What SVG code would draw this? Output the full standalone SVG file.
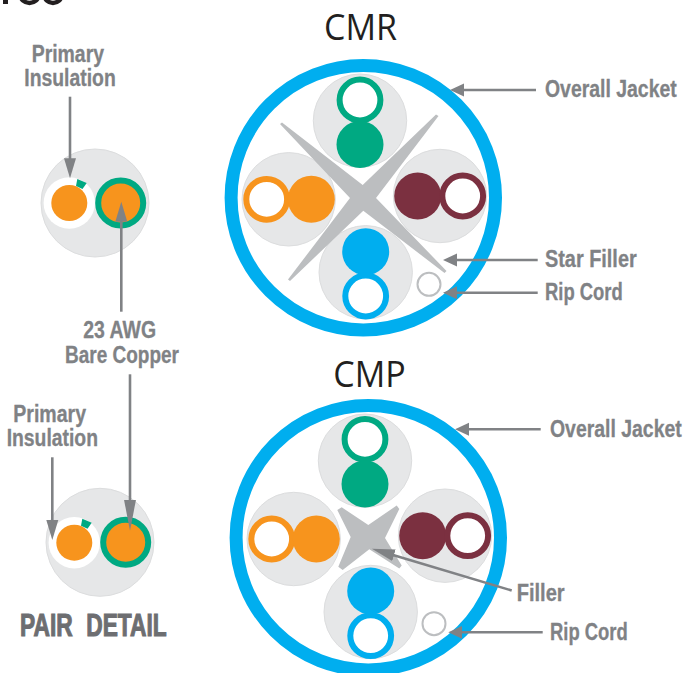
<svg xmlns="http://www.w3.org/2000/svg" width="683" height="673" viewBox="0 0 683 673">
<style>
.bg{fill:#fff}
.grey{fill:#e6e7e8;stroke:#dcddde;stroke-width:1}
.star{fill:#bcbec0}
.jacket{fill:none;stroke:#00aeef;stroke-width:13}
.rip{fill:#fff;stroke:#bcbec0;stroke-width:2}
.lab{font-family:"Liberation Sans",Arial,sans-serif;font-weight:700;font-size:23px;fill:#808285;stroke:#808285;stroke-width:.3}
.title{font-family:"Open Sans","Noto Sans",sans-serif;font-size:36px;fill:#231f20}
.big{font-family:"Liberation Sans",Arial,sans-serif;font-weight:700;font-size:31px;fill:#6d6e71;stroke:#6d6e71;stroke-width:1.1}
.ln{stroke:#808285;stroke-width:2.6;fill:none}
.ring{fill:#fff;stroke-width:6}
.g{stroke:#00a982}.go{fill:#00a982}
.o{stroke:#f7941d}.oo{fill:#f7941d}
.m{stroke:#7b3040}.mo{fill:#7b3040}
.b{stroke:#00aeef}.bo{fill:#00aeef}
</style>
<defs>
<marker id="h" markerUnits="userSpaceOnUse" markerWidth="15" markerHeight="14" refX="1" refY="7" orient="auto"><path d="M0 0.5L14 7L0 13.5Z" fill="#808285"/></marker>
<marker id="v" markerUnits="userSpaceOnUse" markerWidth="21" markerHeight="14" refX="1" refY="7" orient="auto"><path d="M0 1L20 7L0 13Z" fill="#808285"/></marker>
<marker id="vm" markerUnits="userSpaceOnUse" markerWidth="24" markerHeight="14" refX="1" refY="7" orient="auto"><path d="M0 1L23 7L0 13Z" fill="#808285"/></marker>
<marker id="vl" markerUnits="userSpaceOnUse" markerWidth="32" markerHeight="14" refX="1" refY="7" orient="auto"><path d="M0 1L31 7L0 13Z" fill="#808285"/></marker>
</defs>
<rect class="bg" width="683" height="673"/>
<g id="header-fragment"><rect x="3" y="0" width="5" height="4" fill="#231f20"/><ellipse cx="29.500" cy="-5" rx="9" ry="8" fill="none" stroke="#231f20" stroke-width="4.500"/><ellipse cx="53" cy="-5" rx="8.500" ry="8" fill="none" stroke="#231f20" stroke-width="4.500"/></g>

<g id="cmr-title"><text class="title" x="324" y="40" textLength="73" lengthAdjust="spacingAndGlyphs">CMR</text></g>
<g id="cmr-jacket"><circle class="jacket" cx="363.3" cy="197.7" r="132.2"/></g>
<g id="cmr-pair-green"><circle class="grey" cx="360" cy="120.7" r="46.7"/><circle class="ring g" cx="360" cy="100" r="20.4"/><circle class="go" cx="360" cy="144.5" r="23.5"/></g>
<g id="cmr-pair-orange"><circle class="grey" cx="288.7" cy="199.3" r="46.7"/><circle class="ring o" cx="266.7" cy="199.3" r="20.4"/><circle class="oo" cx="311.3" cy="199.3" r="23.5"/></g>
<g id="cmr-pair-maroon"><circle class="grey" cx="440" cy="196" r="46.7"/><circle class="mo" cx="417.7" cy="196" r="23.5"/><circle class="ring m" cx="462.7" cy="196" r="20.4"/></g>
<g id="cmr-pair-blue"><circle class="grey" cx="365.7" cy="272.3" r="46.7"/><circle class="bo" cx="365.7" cy="251.7" r="23.5"/><circle class="ring b" cx="365.7" cy="296" r="20.4"/></g>
<g id="cmr-star-filler"><path class="star" d="M282 122.5L362.7 185L436 114.5L438.5 116L376 198L446.5 271L444.500 273L363.3 210.7L290 281L288 279.5L350 198L280 124Z"/></g>
<g id="cmr-rip-cord"><circle class="rip" cx="429" cy="284.3" r="11.5"/></g>

<g id="cmp-title"><text class="title" x="333.3" y="386.7" textLength="72.4" lengthAdjust="spacingAndGlyphs">CMP</text></g>
<g id="cmp-jacket"><circle class="jacket" cx="368.3" cy="537.7" r="132.2"/></g>
<g id="cmp-pair-green"><circle class="grey" cx="365" cy="460.7" r="46.7"/><circle class="ring g" cx="365" cy="439.3" r="20.4"/><circle class="go" cx="365" cy="484" r="23.5"/></g>
<g id="cmp-pair-orange"><circle class="grey" cx="293.7" cy="539" r="46.7"/><circle class="ring o" cx="271.7" cy="539" r="20.4"/><circle class="oo" cx="316.3" cy="539" r="23.5"/></g>
<g id="cmp-pair-maroon"><circle class="grey" cx="445" cy="535.7" r="46.7"/><circle class="mo" cx="422.7" cy="535.7" r="23.5"/><circle class="ring m" cx="467.7" cy="535.7" r="20.4"/></g>
<g id="cmp-pair-blue"><circle class="grey" cx="370.7" cy="612" r="46.7"/><circle class="bo" cx="370.7" cy="591" r="23.5"/><circle class="ring b" cx="370.7" cy="635.7" r="20.4"/></g>
<g id="cmp-filler"><path class="star" d="M337.3 510L341.7 507.3L368.3 525L396.7 505.500L399.3 509L385 538L401.7 565.500L399.3 568.500L369.3 549.3L342.7 570L338.3 566.7L350.7 537Z"/></g>
<g id="cmp-rip-cord"><circle class="rip" cx="434" cy="623.7" r="11.5"/></g>

<g id="pair-detail-top"><circle class="grey" cx="95" cy="203" r="54"/><circle cx="69.3" cy="203" r="25.7" fill="#fff"/><circle class="oo" cx="69.3" cy="203" r="18"/><path class="go" d="M77.3 179L86.7 183L82.5 189L76 186Z"/><circle class="oo g" cx="120.7" cy="203" r="22.5" stroke-width="6"/></g>
<g id="pair-detail-bottom"><circle class="grey" cx="100" cy="542.3" r="54"/><circle cx="74.3" cy="542.7" r="25.7" fill="#fff"/><circle class="oo" cx="74.3" cy="542.7" r="18"/><path class="go" d="M82.3 518.7L91.7 522.7L87.5 528.7L81 525.7Z"/><circle class="oo g" cx="125.7" cy="542.3" r="22.5" stroke-width="6"/></g>

<g id="connectors">
<line class="ln" x1="536" y1="90" x2="463" y2="90" marker-end="url(#h)"/>
<line class="ln" x1="537.7" y1="260" x2="456" y2="260" marker-end="url(#h)"/>
<line class="ln" x1="537.7" y1="292.7" x2="456" y2="292.7" marker-end="url(#h)"/>
<line class="ln" x1="540.7" y1="429.3" x2="468" y2="429.3" marker-end="url(#h)"/>
<line class="ln" x1="511.7" y1="590.5" x2="393" y2="555" marker-end="url(#vm)"/>
<line class="ln" x1="542.7" y1="632.3" x2="461.3" y2="632.3" marker-end="url(#h)"/>
<line class="ln" x1="70" y1="96.7" x2="70" y2="159.3" marker-end="url(#v)"/>
<line class="ln" x1="121.3" y1="311.7" x2="121.3" y2="220.7" marker-end="url(#v)"/>
<line class="ln" x1="52.3" y1="457.3" x2="52.3" y2="521" marker-end="url(#v)"/>
<line class="ln" x1="130" y1="374.3" x2="130" y2="500.7" marker-end="url(#vl)"/>
</g>

<g id="labels">
<text class="lab" transform="translate(31.7 61.5) scale(.82 1)" textLength="88.2" lengthAdjust="spacingAndGlyphs">Primary</text>
<text class="lab" transform="translate(24.3 85.5) scale(.82 1)" textLength="111.5" lengthAdjust="spacingAndGlyphs">Insulation</text>
<text class="lab" transform="translate(83.3 337.8) scale(.82 1)" textLength="88.7" lengthAdjust="spacingAndGlyphs">23 AWG</text>
<text class="lab" transform="translate(65 363.2) scale(.82 1)" textLength="139" lengthAdjust="spacingAndGlyphs">Bare Copper</text>
<text class="lab" transform="translate(13.3 422.2) scale(.82 1)" textLength="88.7" lengthAdjust="spacingAndGlyphs">Primary</text>
<text class="lab" transform="translate(6.7 446.2) scale(.82 1)" textLength="111.3" lengthAdjust="spacingAndGlyphs">Insulation</text>
<text class="big" transform="translate(20 635.5) scale(.82 1)" textLength="178.9" lengthAdjust="spacingAndGlyphs" word-spacing="10">PAIR DETAIL</text>
<text class="lab" transform="translate(545 97.2) scale(.82 1)" textLength="160.6" lengthAdjust="spacingAndGlyphs">Overall Jacket</text>
<text class="lab" transform="translate(545 267.2) scale(.82 1)" textLength="111.8" lengthAdjust="spacingAndGlyphs">Star Filler</text>
<text class="lab" transform="translate(545 299.8) scale(.82 1)" textLength="94.8" lengthAdjust="spacingAndGlyphs">Rip Cord</text>
<text class="lab" transform="translate(550 437.2) scale(.82 1)" textLength="160.6" lengthAdjust="spacingAndGlyphs">Overall Jacket</text>
<text class="lab" transform="translate(516.7 600.5) scale(.82 1)" textLength="58.5" lengthAdjust="spacingAndGlyphs">Filler</text>
<text class="lab" transform="translate(550 639.5) scale(.82 1)" textLength="94.8" lengthAdjust="spacingAndGlyphs">Rip Cord</text>
</g>
</svg>
